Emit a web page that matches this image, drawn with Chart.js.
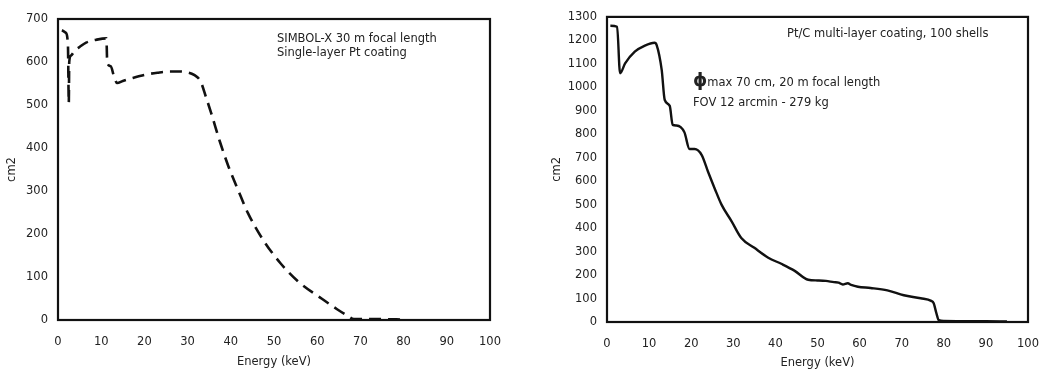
<!DOCTYPE html>
<html>
<head>
<meta charset="utf-8">
<script src="https://cdn.jsdelivr.net/npm/chart.js@4/dist/chart.umd.min.js"></script>
<style>
  body { margin: 0; background: #fff; }
  #wrap { position: relative; width: 1061px; height: 372px; overflow: hidden; background: #fff; }
  canvas { position: absolute; top: 0; }
  .note { position: absolute; font-family: "DejaVu Sans", sans-serif; font-size: 11.5px; color: #222; white-space: nowrap; }
  .phi { font-size: 18px; line-height: 14px; font-weight: bold; }
</style>
</head>
<body>
<div id="wrap">
  <canvas id="leftChart" width="520" height="372" style="left:0"></canvas>
  <canvas id="rightChart" width="541" height="372" style="left:520px"></canvas>
  <div class="note" style="left:277px; top:31px; line-height:14px">SIMBOL-X 30 m focal length<br>Single-layer Pt coating</div>
  <div class="note" style="left:787px; top:26px; line-height:14px">Pt/C multi-layer coating, 100 shells</div>
  <div class="note" style="left:693px; top:72px; line-height:20px"><span class="phi">ϕ</span>max 70 cm, 20 m focal length<br>FOV 12 arcmin - 279 kg</div>
</div>
<script>
// SIMBOL-X, single-layer Pt (dashed)
var ptEnergy = [0.9, 1.8, 2.3, 2.5, 2.6, 3.0, 4, 5, 6.5, 9, 11.2, 11.4, 12.2, 13.0, 13.7, 15, 17, 20, 23, 26, 28, 30, 31.5, 33, 34.2, 35.5, 37.5, 39.5, 41.7, 44, 47.5, 51.5, 56, 61, 64.6, 67, 68.5, 70, 75, 80];
var ptArea = [674, 668, 640, 505, 600, 615, 628, 635, 645, 652, 655, 598, 590, 565, 551, 556, 562, 570, 575, 578, 578, 576, 570, 555, 520, 480, 414, 356, 302, 248, 186, 132, 86, 50, 25, 10, 2, 2, 2, 1];

// Pt/C multi-layer, 100 shells (solid)
var mlEnergy = [0.8, 2.4, 3.1, 4.3, 6.6, 9, 11.3, 11.8, 13, 13.7, 14.9, 15.6, 16.5, 17.5, 18.4, 19.6, 20.8, 22.5, 24, 25.6, 27.2, 29.6, 31.9, 35, 38.3, 41.4, 44.5, 47.8, 50, 52, 53.9, 55, 56, 57.2, 58, 59.6, 62.6, 66.6, 70.5, 74.5, 77, 77.6, 78.2, 78.8, 80, 90, 95];
var mlArea = [1262, 1258, 1060, 1102, 1152, 1178, 1190, 1180, 1073, 947, 921, 840, 837, 830, 808, 737, 737, 711, 640, 568, 500, 429, 358, 316, 274, 248, 219, 180, 177, 175, 170, 168, 160, 165, 158, 150, 145, 135, 114, 101, 90, 80, 40, 8, 4, 3, 2];

var energyTicks = [0, 100, 10];   // min, max, step
var leftAreaTicks = [0, 700, 100];
var rightAreaTicks = [0, 1300, 100];

var tickFont = { family: 'DejaVu Sans', size: 11.5 };
var textColor = '#222';

function toPoints(xs, ys) {
    var pts = [];
    for (var i = 0; i < xs.length; i++) pts.push({ x: xs[i], y: ys[i] });
    return pts;
}

// box around the plot area
var frame = {
    id: 'frame',
    afterDraw: function (chart) {
        var a = chart.chartArea, ctx = chart.ctx;
        ctx.save();
        ctx.strokeStyle = '#111';
        ctx.lineWidth = 2.2;
        ctx.strokeRect(a.left, a.top, a.right - a.left, a.bottom - a.top);
        ctx.restore();
    }
};

function makeChart(id, pts, yTicks, opt) {
    return new Chart(document.getElementById(id).getContext('2d'), {
        type: 'line',
        data: {
            datasets: [{
                data: pts,
                borderColor: '#111',
                borderWidth: opt.lineWidth,
                borderDash: opt.dash,
                pointRadius: 0,
                cubicInterpolationMode: 'monotone',
                fill: false
            }]
        },
        options: {
            responsive: false,
            animation: false,
            layout: { padding: opt.padding },
            plugins: { legend: { display: false }, tooltip: { enabled: false } },
            scales: {
                x: {
                    type: 'linear', min: energyTicks[0], max: energyTicks[1],
                    ticks: { stepSize: energyTicks[2], padding: 15, color: textColor, font: tickFont, maxRotation: 0 },
                    grid: { display: false, drawTicks: false },
                    border: { display: false },
                    title: { display: true, text: 'Energy (keV)', color: textColor, font: tickFont, padding: { top: 0, bottom: opt.xTitlePad } },
                    afterFit: function (s) { s.height = opt.xHeight; }
                },
                y: {
                    min: yTicks[0], max: yTicks[1],
                    ticks: {
                        stepSize: yTicks[2], padding: 10, color: textColor, font: tickFont,
                        callback: function (v) { return String(v); }
                    },
                    grid: { display: false, drawTicks: false },
                    border: { display: false },
                    title: { display: true, text: 'cm2', color: textColor, font: tickFont, padding: { top: opt.yTitlePad, bottom: 0 } },
                    afterFit: function (s) { s.width = opt.yWidth; }
                }
            }
        },
        plugins: [frame]
    });
}

makeChart('leftChart', toPoints(ptEnergy, ptArea), leftAreaTicks, {
    lineWidth: 2.6, dash: [12, 7],
    padding: { top: 19, right: 30, left: 0, bottom: 0 },
    xHeight: 52, yWidth: 58, xTitlePad: 3, yTitlePad: 5
});

makeChart('rightChart', toPoints(mlEnergy, mlArea), rightAreaTicks, {
    lineWidth: 2.4, dash: [],
    padding: { top: 13, right: 33, left: 0, bottom: 0 },
    xHeight: 50, yWidth: 87, xTitlePad: 2, yTitlePad: 30
});
</script>
</body>
</html>
